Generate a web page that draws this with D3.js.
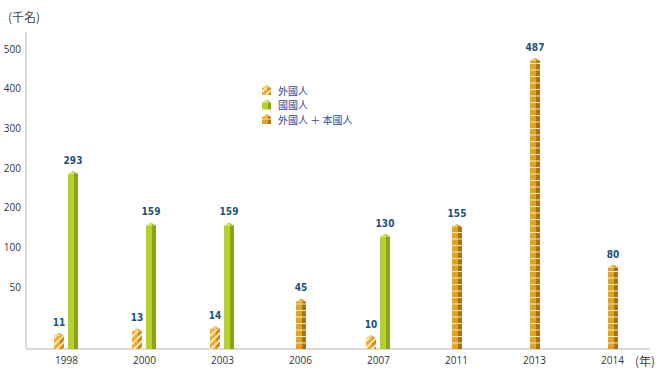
<!DOCTYPE html>
<html>
<head>
<meta charset="utf-8">
<script src="https://cdn.jsdelivr.net/npm/d3@7"></script>
<style>
  body { margin: 0; background: #fff; }
  svg { display: block; }
</style>
</head>
<body>
<div id="chart"><svg></svg></div>
<script>
// chart data
var years = ['1998', '2000', '2003', '2006', '2007', '2011', '2013', '2014'];
var foreign = [11, 13, 14, null, 10, null, null, null];
var national = [293, 159, 159, null, 130, null, null, null];
var combined = [null, null, null, 45, null, 155, 487, 80];
var yTickLabels = ['500', '400', '300', '200', '200', '100', '50'];
var legendLabels = ['外國人', '國國人', '外國人 ＋ 本國人'];

(function() {
    var width = 665,
    height = 380,
    base = 349,
    svg = d3.select('#chart svg').attr('width', width).attr('height', height),
    defs = svg.append('defs'),
    x, y, yTicks;

    // the picture's bar heights are not linear, so use a piecewise scale
    y = d3.scaleLinear()
        .domain([0, 10, 14, 50, 100, 160, 300, 500])
        .range([349, 335, 326, 294, 245, 222, 168, 50]);
    x = d3.scalePoint().domain(years).range([66, 612]);
    yTicks = d3.scalePoint().domain(d3.range(yTickLabels.length)).range([49, 287]);

    // patterns: striped foreign bars, brick combined bars
    function stripes(id, bg) {
        var p = defs.append('pattern').attr('id', id)
            .attr('patternUnits', 'userSpaceOnUse').attr('width', 7).attr('height', 7);
        p.append('rect').attr('width', 7).attr('height', 7).attr('fill', bg);
        p.append('path').attr('d', 'M0,7L7,0M-2,2L2,-2M5,9L9,5')
            .attr('stroke', '#fff3d0').attr('stroke-width', 1.6);
    }
    function bricks(id, bg) {
        var p = defs.append('pattern').attr('id', id)
            .attr('patternUnits', 'userSpaceOnUse').attr('width', 4).attr('height', 6.5)
            .attr('y', base);
        p.append('rect').attr('width', 4).attr('height', 6.5).attr('fill', bg);
        p.append('rect').attr('width', 4).attr('height', 1).attr('fill', '#fbe9b8');
    }
    stripes('f-front', '#f2ab2e');
    stripes('f-side', '#d88a1e');
    bricks('c-front', '#dea42a');
    bricks('c-side', '#a9720f');

    var styles = {
        foreign: {front: 'url(#f-front)', side: 'url(#f-side)', capF: '#f8cf6a', capS: '#e0a040'},
        national: {front: '#b3d12f', side: '#8ea315', capF: '#d2e96c', capS: '#a3b92a'},
        combined: {front: 'url(#c-front)', side: 'url(#c-side)', capF: '#f2c85a', capS: '#c08a20'}
    };

    // draw one 3d looking bar
    function bar(g, x0, w, top, bottom, kind) {
        var s = styles[kind],
        cap = 3,
        fw = Math.round(w * 0.62),
        peak = x0 + fw * 0.8;
        g.append('rect').attr('x', x0).attr('y', top + cap)
            .attr('width', fw).attr('height', bottom - top - cap).attr('fill', s.front);
        g.append('rect').attr('x', x0 + fw).attr('y', top + cap)
            .attr('width', w - fw).attr('height', bottom - top - cap).attr('fill', s.side);
        g.append('polygon').attr('fill', s.capF)
            .attr('points', [[x0, top + cap], [peak, top], [x0 + fw, top + cap]].join(' '));
        g.append('polygon').attr('fill', s.capS)
            .attr('points', [[x0 + fw, top + cap], [peak, top], [x0 + w, top + cap]].join(' '));
    }

    // axes lines
    svg.append('line').attr('x1', 26).attr('x2', 26).attr('y1', 32).attr('y2', base)
        .attr('stroke', '#b4b4b4');
    svg.append('line').attr('x1', 26).attr('x2', 650).attr('y1', base).attr('y2', base)
        .attr('stroke', '#b4b4b4');

    // y tick labels
    var ya = svg.append('g').attr('transform', 'translate(26,0)')
        .call(d3.axisLeft(yTicks).tickSize(0).tickPadding(5)
              .tickFormat(function(i) { return yTickLabels[i]; }));
    ya.select('.domain').remove();
    ya.selectAll('text').attr('font-family', 'Open Sans').attr('font-size', 10).attr('fill', '#333');

    // x tick labels
    var xa = svg.append('g').attr('transform', 'translate(0,' + base + ')')
        .call(d3.axisBottom(x).tickSize(0).tickPadding(8));
    xa.select('.domain').remove();
    xa.selectAll('text').attr('font-family', 'Open Sans').attr('font-size', 10).attr('fill', '#333');

    // unit labels
    svg.append('text').attr('x', 8).attr('y', 22).text('(千名)')
        .attr('font-family', 'Noto Sans CJK TC').attr('font-size', 12).attr('fill', '#444');
    svg.append('text').attr('x', 635).attr('y', 366).text('(年)')
        .attr('font-family', 'Noto Sans CJK TC').attr('font-size', 12).attr('fill', '#444');

    // bars and value labels
    var bars = svg.append('g').classed('bars', true),
    labels = svg.append('g').classed('values', true);
    function valueLabel(cx, v) {
        labels.append('text').attr('x', cx).attr('y', y(v) - 7)
            .attr('text-anchor', 'middle')
            .attr('font-family', 'DejaVu Sans Condensed, DejaVu Sans')
            .attr('font-stretch', 'condensed').attr('font-weight', 'bold')
            .attr('font-size', 10).attr('fill', '#1d4f7e')
            .text(v);
    }
    years.forEach(function(yr, i) {
        var c = x(yr);
        if (foreign[i] != null) {
            bar(bars, c - 12, 10, y(foreign[i]), base, 'foreign');
            valueLabel(c - 7, foreign[i]);
        }
        if (national[i] != null) {
            bar(bars, c + 2, 10, y(national[i]), base, 'national');
            valueLabel(c + 7, national[i]);
        }
        if (combined[i] != null) {
            bar(bars, c - 4, 10, y(combined[i]), base, 'combined');
            valueLabel(c + 1, combined[i]);
        }
    });

    // legend
    var kinds = ['foreign', 'national', 'combined'],
    legend = svg.append('g').attr('transform', 'translate(262,85)');
    kinds.forEach(function(k, i) {
        var row = legend.append('g').attr('transform', 'translate(0,' + (i * 14.5) + ')');
        bar(row, 0, 9, 0, 10, k);
        row.append('text').attr('x', 16).attr('y', 9.5).text(legendLabels[i])
            .attr('font-family', 'Noto Sans CJK TC').attr('font-size', 10)
            .attr('fill', '#2b4a96');
    });
}).call(this);
</script>
</body>
</html>
